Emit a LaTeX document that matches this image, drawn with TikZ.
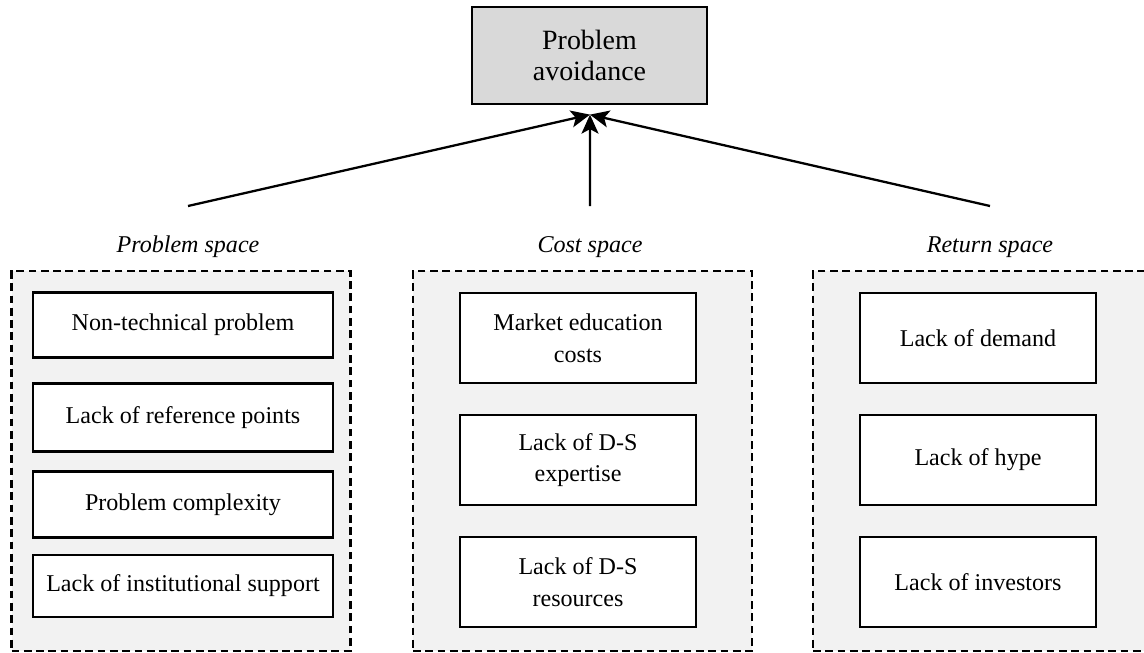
\documentclass[tikz,border=0pt]{standalone}
\usepackage{fontspec}
\setmainfont{Liberation Serif}
\usetikzlibrary{arrows.meta}

\begin{document}
\begin{tikzpicture}[x=0.02cm, y=-0.02cm, line width=1.3pt,
    >={Stealth[length=3.8mm, width=3.4mm, inset=0.9mm]},
    txt/.style={font=\fontsize{13.7}{18}\selectfont, align=center, inner sep=0pt},
    lbl/.style={txt, font=\fontsize{13.7}{18}\selectfont\itshape},
    area/.style={draw, dash pattern=on 4.4pt off 2.6pt, fill=black!5,
      minimum width=6.78cm, minimum height=7.6cm},
    cell/.style={txt, draw, fill=white}]
  \useasboundingbox (0,0) rectangle (1144,653);

  % goal
  \node[draw, fill=black!15, minimum width=4.7cm, minimum height=1.94cm,
    align=center, font=\fontsize{15.9}{18}\selectfont] (goal) at (589.5,55.5)
    {Problem\\avoidance};

  % the three spaces
  \node[area] (pspace) at (181,461) {};
  \node[area] (cspace) at (582.5,461) {};
  \node[area] (rspace) at (982.5,461) {};
  \node[lbl] (plbl) at (188,247) {Problem space};
  \node[lbl] (clbl) at (590,247) {Cost space};
  \node[lbl] (rlbl) at (990,247) {Return space};

  % problem space
  \node[cell, minimum width=6cm, minimum height=1.3cm] (p1) at (183,325) {Non-technical problem};
  \node[cell, minimum width=6cm, minimum height=1.36cm] (p2) at (183,417.5) {Lack of reference points};
  \node[cell, minimum width=6cm, minimum height=1.32cm] (p3) at (183,504.5) {Problem complexity};
  \node[cell, minimum width=6cm, minimum height=1.24cm] (p4) at (183,586) {Lack of institutional support};

  % cost and return space
  \foreach \n/\y/\t in {1/338/{Market education\\costs}, 2/460/{Lack of D-S\\expertise},
      3/582/{Lack of D-S\\resources}}
    \node[cell, minimum width=4.72cm, minimum height=1.8cm] (c\n) at (578,\y) {\t};
  \foreach \n/\y/\t in {1/338/{Lack of demand}, 2/460/{Lack of hype},
      3/582/{Lack of investors}}
    \node[cell, minimum width=4.72cm, minimum height=1.8cm] (r\n) at (978,\y) {\t};

  % arrows
  \coordinate (pfoot) at (188,206);
  \coordinate (cfoot) at (590,206);
  \coordinate (rfoot) at (990,206);
  \foreach \s in {pfoot, cfoot, rfoot}
    \draw[->] (\s) -- ([xshift=0.01cm, yshift=-0.19cm]goal.south);
\end{tikzpicture}
\end{document}
